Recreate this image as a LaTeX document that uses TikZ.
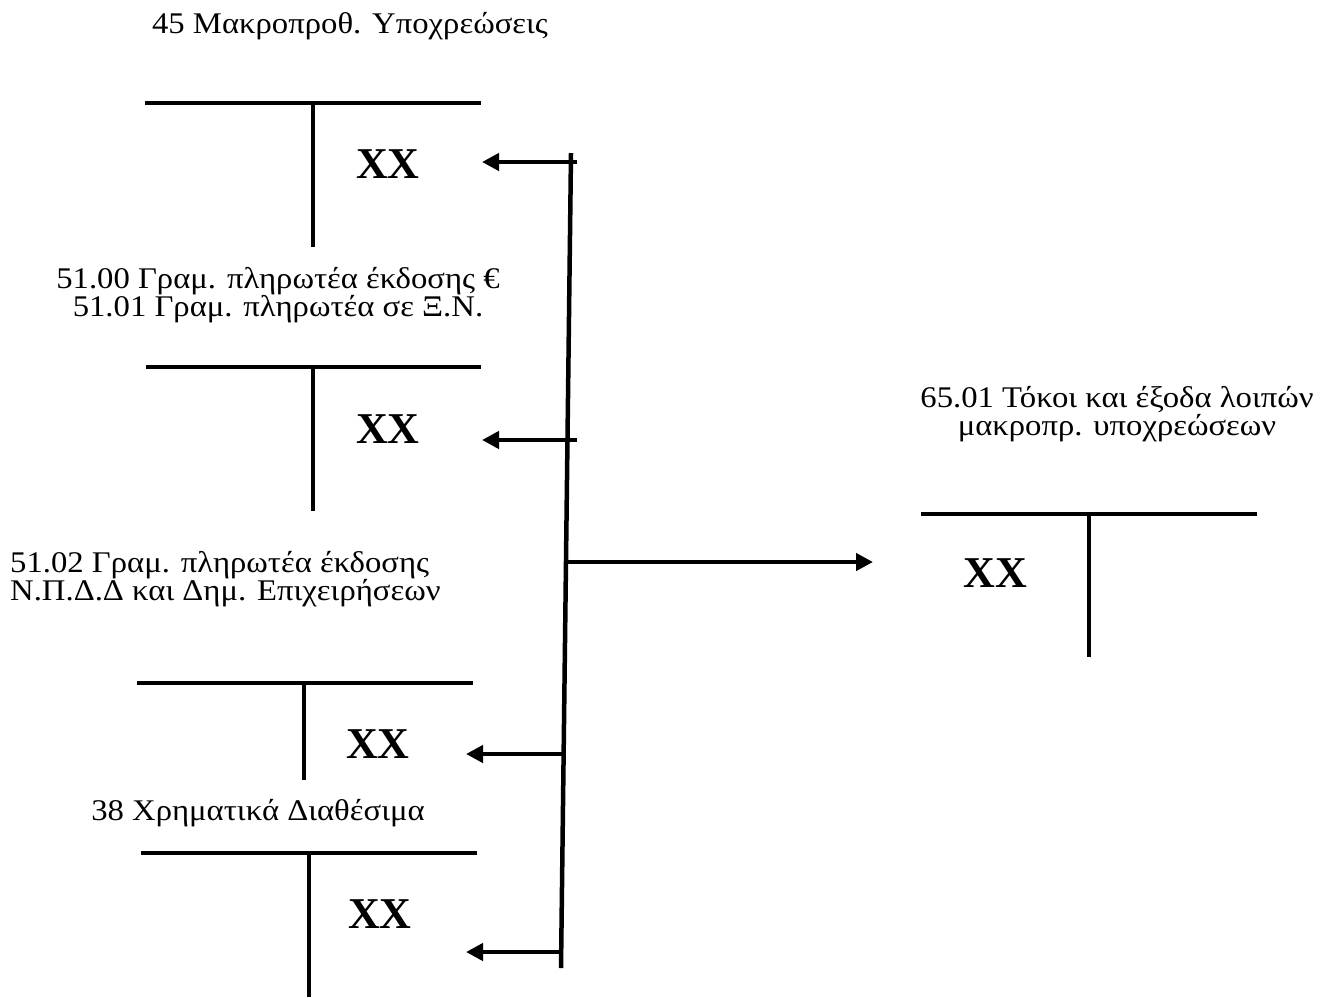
\documentclass[tikz,border=0pt]{standalone}
\usepackage{fontspec}
\setmainfont{Liberation Serif}
\newfontfamily\acctfont[FakeStretch=1.09]{Liberation Serif}
\usetikzlibrary{arrows.meta}
\begin{document}
\begin{tikzpicture}[x=1pt,y=-1pt,
  tline/.style={line width=3.5pt},
  bar/.style={line width=4.5pt},
  flow/.style={line width=4.5pt,-{Triangle[length=17pt,width=17pt]}},
  acct/.style={font=\acctfont\fontsize{30}{28}\selectfont, inner sep=0pt, align=center},
  amount/.style={font=\fontsize{44}{48}\selectfont\bfseries, inner sep=0pt},
]
\useasboundingbox (0,0) rectangle (1329,997);

% account titles (base anchor = baseline of the last line)
\node[acct, anchor=base] (t45) at (350,33) {45 Μακροπροθ. Υποχρεώσεις};
\node[acct, anchor=base] (t5100) at (278,316) {51.00 Γραμ. πληρωτέα έκδοσης €\\51.01 Γραμ. πληρωτέα σε Ξ.Ν.};
\node[acct, anchor=base west, align=left] (t5102) at (10,600) {51.02 Γραμ. πληρωτέα έκδοσης\\Ν.Π.Δ.Δ και Δημ. Επιχειρήσεων};
\node[acct, anchor=base] (t38) at (258,820) {38 Χρηματικά Διαθέσιμα};
\node[acct, anchor=base] (t6501) at (1117,435) {65.01 Τόκοι και έξοδα λοιπών\\μακροπρ. υποχρεώσεων};

% T-accounts
\draw[tline] (145,103) -- (481,103) (313,103) -- (313,247);
\draw[tline] (146,367) -- (481,367) (313,367) -- (313,511);
\draw[tline] (137,683) -- (473,683) (304,683) -- (304,780);
\draw[tline] (141,853) -- (477,853) (309,853) -- (309,997);
\draw[tline] (921,514) -- (1257,514) (1089,514) -- (1089,657);

% amounts
\node[amount] (a45) at (388,164) {XX};
\node[amount] (a51) at (388,429) {XX};
\node[amount] (a5102) at (378,744) {XX};
\node[amount] (a38) at (380,914) {XX};
\node[amount] (a65) at (995,573) {XX};

% distribution bar and arrows
\coordinate (barTop) at (571,153);
\coordinate (barBot) at (561,968);
\draw[bar] (barTop) -- (barBot);

\coordinate (s1) at (577,162);   \coordinate (e1) at (482,162);
\coordinate (s2) at (577,440);   \coordinate (e2) at (482,440);
\coordinate (s3) at (563,754);   \coordinate (e3) at (466,754);
\coordinate (s4) at (561,952);   \coordinate (e4) at (466,952);
\coordinate (s5) at (566,562);   \coordinate (e5) at (873,562);

\draw[flow] (s1) -- (e1);
\draw[flow] (s2) -- (e2);
\draw[flow] (s3) -- (e3);
\draw[flow] (s4) -- (e4);
\draw[flow] (s5) -- (e5);
\end{tikzpicture}
\end{document}
